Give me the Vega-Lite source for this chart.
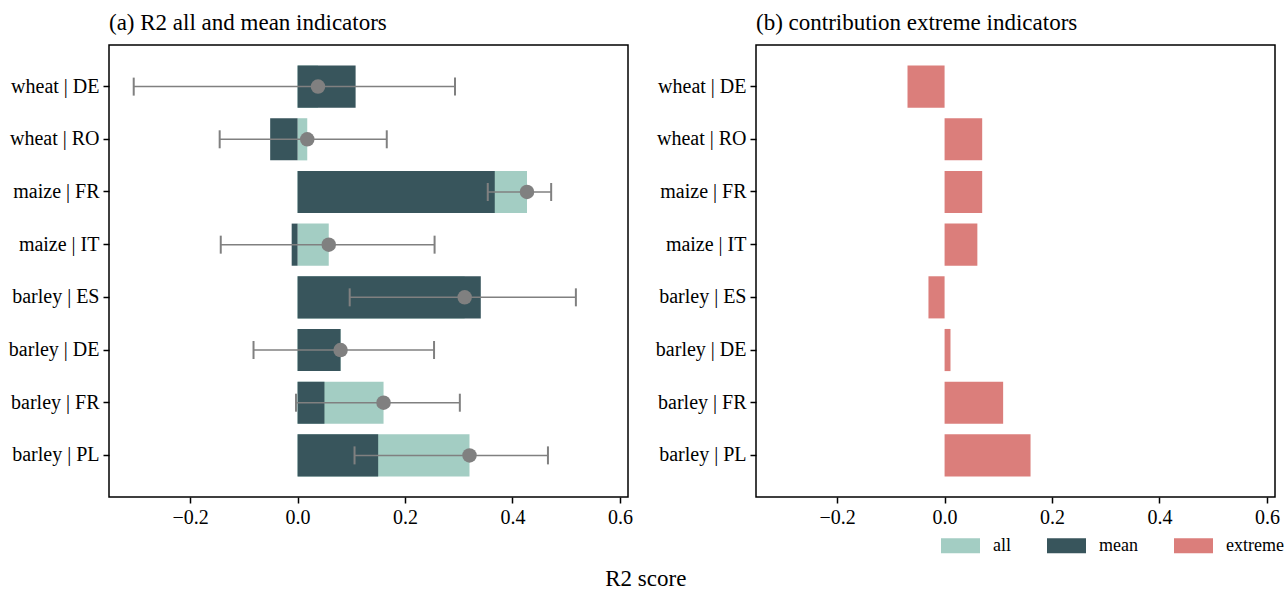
{
  "$schema": "https://vega.github.io/schema/vega-lite/v6.json",
  "padding": {"left": 7, "top": 11, "right": 5, "bottom": 0},
  "background": "white",
  "bounds": "flush",
  "spacing": 128,
  "datasets": {
    "bars": [
      {"label": "wheat | DE", "series": "all", "value": 0.038},
      {"label": "wheat | RO", "series": "all", "value": 0.018},
      {"label": "maize | FR", "series": "all", "value": 0.427},
      {"label": "maize | IT", "series": "all", "value": 0.058},
      {"label": "barley | ES", "series": "all", "value": 0.311},
      {"label": "barley | DE", "series": "all", "value": 0.08},
      {"label": "barley | FR", "series": "all", "value": 0.16},
      {"label": "barley | PL", "series": "all", "value": 0.32},
      {"label": "wheat | DE", "series": "mean", "value": 0.108},
      {"label": "wheat | RO", "series": "mean", "value": -0.051},
      {"label": "maize | FR", "series": "mean", "value": 0.367},
      {"label": "maize | IT", "series": "mean", "value": -0.011},
      {"label": "barley | ES", "series": "mean", "value": 0.341},
      {"label": "barley | DE", "series": "mean", "value": 0.08},
      {"label": "barley | FR", "series": "mean", "value": 0.05},
      {"label": "barley | PL", "series": "mean", "value": 0.15},
      {"label": "wheat | DE", "series": "extreme", "value": -0.069},
      {"label": "wheat | RO", "series": "extreme", "value": 0.07},
      {"label": "maize | FR", "series": "extreme", "value": 0.07},
      {"label": "maize | IT", "series": "extreme", "value": 0.061},
      {"label": "barley | ES", "series": "extreme", "value": -0.03},
      {"label": "barley | DE", "series": "extreme", "value": 0.011},
      {"label": "barley | FR", "series": "extreme", "value": 0.109},
      {"label": "barley | PL", "series": "extreme", "value": 0.16}
    ],
    "err": [
      {"label": "wheat | DE", "point": 0.038, "lo": -0.305, "hi": 0.293},
      {"label": "wheat | RO", "point": 0.018, "lo": -0.145, "hi": 0.166},
      {"label": "maize | FR", "point": 0.427, "lo": 0.354, "hi": 0.472},
      {"label": "maize | IT", "point": 0.058, "lo": -0.143, "hi": 0.255},
      {"label": "barley | ES", "point": 0.311, "lo": 0.097, "hi": 0.518},
      {"label": "barley | DE", "point": 0.08, "lo": -0.082, "hi": 0.254},
      {"label": "barley | FR", "point": 0.16, "lo": -0.003, "hi": 0.302},
      {"label": "barley | PL", "point": 0.32, "lo": 0.106, "hi": 0.466}
    ]
  },
  "title": {"text": "R2 score", "orient": "bottom", "anchor": "middle", "fontSize": 23, "fontWeight": "normal", "font": "Liberation Serif", "offset": 13, "color": "black"},
  "config": {
    "font": "Liberation Serif",
    "view": {"stroke": "black", "strokeWidth": 1.5},
    "axis": {"grid": false, "domain": false, "ticks": true, "tickColor": "black", "tickWidth": 1.5, "tickSize": 6, "labelFontSize": 20, "labelColor": "black", "labelFont": "Liberation Serif", "labelPadding": 4, "title": null},
    "title": {"font": "Liberation Serif", "fontWeight": "normal", "fontSize": 23, "color": "black", "anchor": "start", "offset": 10},
    "legend": {"labelFont": "Liberation Serif"}
  },
  "hconcat": [
    {
      "width": 519,
      "height": 452,
      "title": {"text": "(a) R2 all and mean indicators", "frame": "group"},
      "encoding": {
        "y": {"field": "label", "type": "nominal", "sort": ["wheat | DE", "wheat | RO", "maize | FR", "maize | IT", "barley | ES", "barley | DE", "barley | FR", "barley | PL"], "scale": {"paddingInner": 0.2, "paddingOuter": 0.39}, "axis": {"title": null}}
      },
      "layer": [
        {
          "data": {"name": "bars"},
          "transform": [{"filter": "datum.series == 'all'"}],
          "mark": {"type": "bar"},
          "encoding": {
            "x": {"field": "value", "type": "quantitative", "stack": null, "scale": {"domain": [-0.351, 0.615], "nice": false, "zero": false}, "axis": {"values": [-0.2, 0, 0.2, 0.4, 0.6], "format": ".1f", "title": null}},
            "color": {"field": "series", "type": "nominal", "scale": {"domain": ["all", "mean", "extreme"], "range": ["#a3cdc3", "#38555c", "#db7e7b"]}, "legend": {"orient": "none", "direction": "horizontal", "legendX": 832, "legendY": 481, "title": null, "symbolType": "M-1,-0.385H1V0.385H-1Z", "symbolSize": 1521, "symbolStrokeWidth": 0, "symbolOpacity": 1, "labelFontSize": 18, "labelColor": "black", "labelOffset": 13, "columnPadding": 36}}
          }
        },
        {
          "data": {"name": "bars"},
          "transform": [{"filter": "datum.series == 'mean'"}],
          "mark": {"type": "bar"},
          "encoding": {
            "x": {"field": "value", "type": "quantitative", "stack": null},
            "color": {"field": "series", "type": "nominal"}
          }
        },
        {
          "data": {"name": "err"},
          "mark": {"type": "rule", "color": "#808080", "strokeWidth": 1.5},
          "encoding": {
            "x": {"field": "lo", "type": "quantitative"},
            "x2": {"field": "hi"}
          }
        },
        {
          "data": {"name": "err"},
          "mark": {"type": "tick", "orient": "vertical", "color": "#808080", "size": 18, "thickness": 2, "opacity": 1},
          "encoding": {
            "x": {"field": "lo", "type": "quantitative"}
          }
        },
        {
          "data": {"name": "err"},
          "mark": {"type": "tick", "orient": "vertical", "color": "#808080", "size": 18, "thickness": 2, "opacity": 1},
          "encoding": {
            "x": {"field": "hi", "type": "quantitative"}
          }
        },
        {
          "data": {"name": "err"},
          "mark": {"type": "circle", "color": "#808080", "size": 210, "opacity": 1},
          "encoding": {
            "x": {"field": "point", "type": "quantitative"}
          }
        }
      ]
    },
    {
      "width": 519,
      "height": 452,
      "title": {"text": "(b) contribution extreme indicators", "frame": "group"},
      "data": {"name": "bars"},
      "transform": [{"filter": "datum.series == 'extreme'"}],
      "mark": {"type": "bar"},
      "encoding": {
        "y": {"field": "label", "type": "nominal", "sort": ["wheat | DE", "wheat | RO", "maize | FR", "maize | IT", "barley | ES", "barley | DE", "barley | FR", "barley | PL"], "scale": {"paddingInner": 0.2, "paddingOuter": 0.39}, "axis": {"title": null}},
        "x": {"field": "value", "type": "quantitative", "stack": null, "scale": {"domain": [-0.351, 0.615], "nice": false, "zero": false}, "axis": {"values": [-0.2, 0, 0.2, 0.4, 0.6], "format": ".1f", "title": null}},
        "color": {"field": "series", "type": "nominal"}
      }
    }
  ]
}
